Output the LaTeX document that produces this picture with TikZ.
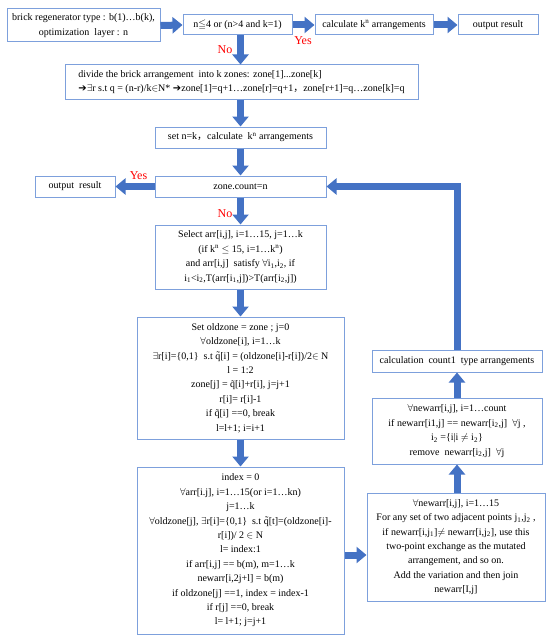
\documentclass[tikz,border=0pt]{standalone}
\usepackage{amssymb}
\usepackage{fontspec}
\setmainfont{Liberation Serif}
\newfontfamily\cjk{Noto Sans CJK SC}
\newfontfamily\symf{DejaVu Sans}
\usetikzlibrary{arrows.meta}
\definecolor{boxblue}{RGB}{125,160,220}
\definecolor{arrblue}{RGB}{68,114,196}
\newcommand{\sbs}[1]{\textsubscript{#1}}
\newcommand{\sps}[1]{\textsuperscript{#1}}
\newcommand{\qtl}{\~{q}}
\newcommand{\blkarr}{{\symf ➔}}
\begin{document}
\begin{tikzpicture}[x=1pt,y=-1pt,
 box/.style={draw=boxblue,line width=1pt,fill=white,inner sep=2pt,align=center,font=\fontsize{10}{14.4}\selectfont},
 flow/.style={draw=arrblue,line width=7pt,-{Triangle[length=10pt,width=16pt]}},
 lab/.style={text=red,font=\fontsize{12}{14}\selectfont}]
\useasboundingbox (0,0) rectangle (550,642);

\node[box,minimum width=153pt,minimum height=33pt] (start) at (83.5,25.5)
 {brick regenerator type : b(1)…b(k),\\optimization~ layer : n};
\node[box,minimum width=109pt,minimum height=20pt] (dec) at (237.5,25)
 {n$\leqq$4 or (n>4 and k=1)};
\node[box,minimum width=118pt,minimum height=20pt] (calc) at (374,25)
 {calculate k\sps{n} arrangements};
\node[box,minimum width=80pt,minimum height=20pt] (out1) at (498,25)
 {output result};

\node[box,align=left,minimum width=353pt,minimum height=34pt] (divide) at (241.5,82)
 {divide the brick arrangement~ into k zones: zone[1]...zone[k]\\
 \blkarr$\exists$r s.t q = (n-r)/k$\in$N* \blkarr zone[1]=q+1…zone[r]=q+1{\cjk ，}zone[r+1]=q…zone[k]=q};

\node[box,minimum width=171pt,minimum height=21pt] (setn) at (240.5,137.5)
 {set n=k{\cjk ，}calculate~ k\sps{n} arrangements};
\node[box,minimum width=171pt,minimum height=21pt] (zc) at (240.5,186.5)
 {zone.count=n};
\node[box,minimum width=80pt,minimum height=21pt] (out2) at (75,186.5)
 {output~ result};

\node[box,minimum width=171pt,minimum height=64pt] (select) at (240.5,257)
 {Select arr[i,j], i=1…15, j=1…k\\
 (if k\sps{n} $\leq$ 15, i=1…k\sps{n})\\
 and arr[i,j]~ satisfy $\forall$i\sbs{1},i\sbs{2}, if\\
 i\sbs{1}<i\sbs{2},T(arr[i\sbs{1},j])>T(arr[i\sbs{2},j])};

\node[box,minimum width=207pt,minimum height=122pt] (oldz) at (240.5,378)
 {Set oldzone = zone ; j=0\\
 $\forall$oldzone[i], i=1…k\\
 $\exists$r[i]=\{0,1\}~ s.t \qtl[i] = (oldzone[i]-r[i])/2$\in$ N\\
 l = 1:2\\
 zone[j] = \qtl[i]+r[i], j=j+1\\
 r[i]= r[i]-1\\
 if \qtl[i] ==0, break\\
 l=l+1; i=i+1};

\node[box,minimum width=207pt,minimum height=167pt] (index) at (240.5,550.5)
 {index = 0\\
 $\forall$arr[i.j], i=1…15(or i=1…kn)\\
 j=1…k\\
 $\forall$oldzone[j], $\exists$r[i]=\{0,1\}~ s.t \qtl[t]=(oldzone[i]-\\
 r[i])/ 2 $\in$ N\\
 l= index:1\\
 if arr[i,j] == b(m), m=1…k\\
 newarr[i,2j+l] = b(m)\\
 if oldzone[j] ==1, index = index-1\\
 if r[j] ==0, break\\
 l= l+1; j=j+1};

\node[box,minimum width=170pt,minimum height=22pt] (calc1) at (457,361)
 {calculation~ count1~ type arrangements};
\node[box,minimum width=170pt,minimum height=66pt] (remove) at (457,431)
 {$\forall$newarr[i,j], i=1…count\\
 if newarr[i1,j] == newarr[i\sbs{2},j]~ $\forall$j ,\\
 i\sbs{2} =\{i|i $\neq$ i\sbs{2}\}\\
 remove~ newarr[i\sbs{2},j]~ $\forall$j};
\node[box,minimum width=178pt,minimum height=108pt] (newarr) at (456,547)
 {$\forall$newarr[i,j], i=1…15\\
 For any set of two adjacent points j\sbs{1},j\sbs{2} ,\\
 if newarr[i,j\sbs{1}]$\neq$ newarr[i,j\sbs{2}], use this\\
 two-point exchange as the mutated\\
 arrangement, and so on.\\
 Add the variation and then join\\
 newarr[I,j]};

% connectors
\draw[flow] (start.east) -- (dec.west);
\draw[flow] (dec.east) -- (calc.west);
\draw[flow] (calc.east) -- (out1.west);
\draw[flow] (dec.south -| setn.north) -- (divide.north -| setn.north);
\draw[flow] (divide.south -| setn.north) -- (setn.north);
\draw[flow] (setn.south) -- (zc.north);
\draw[flow] (zc.west) -- (out2.east);
\draw[flow] (zc.south) -- (select.north);
\draw[flow] (select.south) -- (oldz.north);
\draw[flow] (oldz.south) -- (index.north);
\draw[flow] (index.east |- 0,555) -- (newarr.west |- 0,555);
\draw[flow] (newarr.north -| remove.south) -- (remove.south);
\draw[flow] (remove.north) -- (calc1.south);
\draw[flow,line join=miter] (calc1.north) |- (zc.east);

% labels
\node[lab] (yes1) at (303,41) {Yes};
\node[lab] (no1) at (225,50) {No};
\node[lab] (yes2) at (138.5,176) {Yes};
\node[lab] (no2) at (225,214) {No};
\end{tikzpicture}
\end{document}
